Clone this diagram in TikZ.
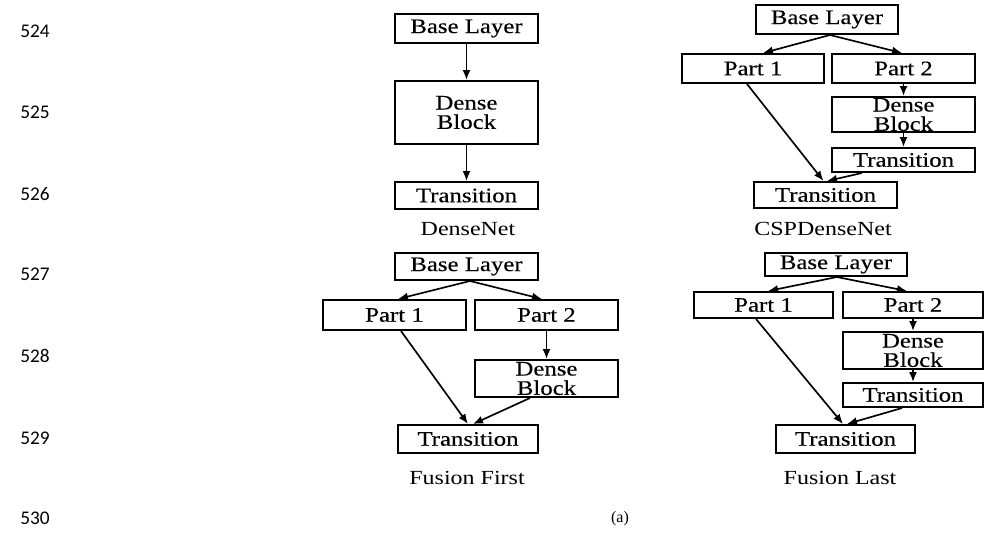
\documentclass[tikz,border=0pt]{standalone}
\usepackage{fontspec}
\usetikzlibrary{arrows.meta,calc}
\newfontfamily\figfont[FakeStretch=1.2,FakeBold=0.3]{Liberation Serif}
\newfontfamily\namefont[FakeStretch=1.2]{Liberation Serif}
\newfontfamily\capfont{Liberation Serif}
\newfontfamily\numfont{Carlito}

\tikzset{
  blk/.style 2 args={draw, line width=1.5pt, inner sep=0pt,
    minimum width=#1*0.75pt, minimum height=#2*0.75pt,
    font=\figfont\fontsize{15.5pt}{14.5pt}\selectfont, align=center},
  netname/.style={inner sep=0pt, font=\namefont\fontsize{15pt}{16pt}\selectfont},
  lineno/.style={anchor=west, inner sep=0pt, font=\numfont\fontsize{14.5pt}{16pt}\selectfont},
  flow/.style={line width=1.25pt, -{Latex[length=7.5pt,width=6pt]}}
}

\begin{document}
\begin{tikzpicture}[x=0.75pt, y=-0.75pt]
\useasboundingbox (0,0) rectangle (994,539);

% line numbers in the margin
\node[lineno] (n524) at (20,31)  {524};
\node[lineno] (n525) at (20,112) {525};
\node[lineno] (n526) at (20,194) {526};
\node[lineno] (n527) at (20,274) {527};
\node[lineno] (n528) at (20,356) {528};
\node[lineno] (n529) at (20,438) {529};
\node[lineno] (n530) at (20,518) {530};

% ---- DenseNet ----
\node[blk={143}{29}] (dbase)  at (466.5,28.5)  {Base Layer};
\node[blk={143}{63}] (ddense) at (466.5,112.5) {Dense\\Block};
\node[blk={143}{27}] (dtrans) at (466.5,195.5) {Transition};
\node[netname] (dname) at (468,229) {DenseNet};
\draw[flow] (dbase.south) -- (ddense.north);
\draw[flow] (ddense.south) -- (dtrans.north);

% ---- CSPDenseNet ----
\node[blk={142}{29}] (cbase)  at (827,19.5)   {Base Layer};
\node[blk={142}{29}] (cp1)    at (753,68.5)   {Part 1};
\node[blk={143}{29}] (cp2)    at (903.5,68.5) {Part 2};
\node[blk={143}{35}] (cdense) at (903.5,114.5){Dense\\Block};
\node[blk={143}{24}] (ctrr)   at (903.5,160)  {Transition};
\node[blk={143}{26}] (ctrans) at (825.5,195)  {Transition};
\node[netname] (cname) at (823,229) {CSPDenseNet};
\draw[flow] ($(cbase.south)+(3,0)$) -- ($(cp1.north)+(10,0)$);
\draw[flow] ($(cbase.south)+(3,0)$) -- ($(cp2.north)+(-1.5,0)$);
\draw[flow] (cp2.south) -- (cdense.north);
\draw[flow] (cdense.south) -- (ctrr.north);
\draw[flow] ($(cp1.south)+(-6,0)$) -- ($(ctrans.north)+(-2,0)$);
\draw[flow] ($(ctrr.south)+(-41.5,0)$) -- ($(ctrans.north)+(1.5,0)$);

% ---- Fusion First ----
\node[blk={143}{27}] (fbase)  at (466.5,266.5) {Base Layer};
\node[blk={143}{30}] (fp1)    at (394.5,315)   {Part 1};
\node[blk={143}{30}] (fp2)    at (546.5,315)   {Part 2};
\node[blk={143}{37}] (fdense) at (546.5,378.5) {Dense\\Block};
\node[blk={140}{28}] (ftrans) at (468,439)     {Transition};
\node[netname] (fname) at (467,478) {Fusion First};
\draw[flow] ($(fbase.south)+(3.5,0)$) -- ($(fp1.north)+(3.5,0)$);
\draw[flow] ($(fbase.south)+(3.5,0)$) -- ($(fp2.north)+(-4.5,0)$);
\draw[flow] (fp2.south) -- (fdense.north);
\draw[flow] ($(fp1.south)+(6.5,0)$) -- (ftrans.north);
\draw[flow] ($(fdense.south)+(-16.5,0)$) -- ($(ftrans.north)+(5,0)$);

% ---- Fusion Last ----
\node[blk={142}{23}] (lbase)  at (836,264.5)   {Base Layer};
\node[blk={139}{26}] (lp1)    at (763.5,305)   {Part 1};
\node[blk={140}{26}] (lp2)    at (913,305)     {Part 2};
\node[blk={140}{37}] (ldense) at (913,350.5)   {Dense\\Block};
\node[blk={140}{24}] (ltrr)   at (913,395)     {Transition};
\node[blk={139}{28}] (ltrans) at (845.5,439)   {Transition};
\node[netname] (lname) at (840,478) {Fusion Last};
\draw[flow] ($(lbase.south)+(1,0)$) -- ($(lp1.north)+(4.5,0)$);
\draw[flow] ($(lbase.south)+(1,0)$) -- ($(lp2.north)+(-6,0)$);
\draw[flow] (lp2.south) -- (ldense.north);
\draw[flow] (ldense.south) -- (ltrr.north);
\draw[flow] ($(lp1.south)+(-7.5,0)$) -- ($(ltrans.north)+(-2.5,0)$);
\draw[flow] ($(ltrr.south)+(-11,0)$) -- ($(ltrans.north)+(1.5,0)$);

% sub-figure caption
\node[inner sep=0pt, font=\capfont\fontsize{12pt}{14pt}\selectfont] (cap) at (620,519) {(a)};
\end{tikzpicture}
\end{document}
